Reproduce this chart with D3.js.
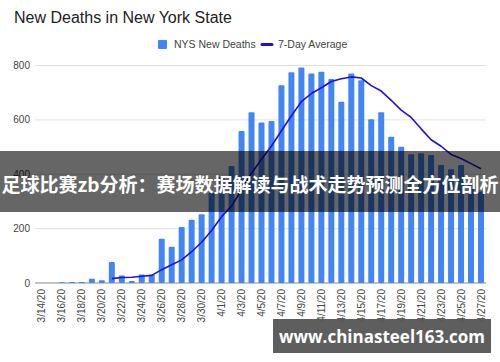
<!DOCTYPE html>
<html>
<head>
<meta charset="utf-8">
<script src="https://cdn.jsdelivr.net/npm/d3@7"></script>
<style>
  html, body { margin: 0; padding: 0; background: #fff; }
  svg { display: block; font-family: Arial, "Liberation Sans", sans-serif; }
</style>
</head>
<body>
<svg id="chart" width="500" height="362"></svg>
<script>
// dates shown on the x axis (every day, labels on every second one)
const dates = ["3/14/20","3/15/20","3/16/20","3/17/20","3/18/20","3/19/20","3/20/20","3/21/20","3/22/20","3/23/20",
  "3/24/20","3/25/20","3/26/20","3/27/20","3/28/20","3/29/20","3/30/20","3/31/20","4/1/20","4/2/20",
  "4/3/20","4/4/20","4/5/20","4/6/20","4/7/20","4/8/20","4/9/20","4/10/20","4/11/20","4/12/20",
  "4/13/20","4/14/20","4/15/20","4/16/20","4/17/20","4/18/20","4/19/20","4/20/20","4/21/20","4/22/20",
  "4/23/20","4/24/20","4/25/20","4/26/20","4/27/20"];

// NYS new deaths (bars)
const newDeaths = [0, 0, 3, 4, 4, 16, 10, 77, 28, 7,
  31, 30, 163, 133, 206, 233, 253, 332, 391, 430,
  559, 628, 590, 596, 727, 775, 793, 771, 777, 750,
  667, 771, 746, 602, 628, 538, 501, 474, 477, 471,
  434, 418, 434, 367, 337];

// 7-day average (line), starts on 3/21
const avgDates = dates.slice(7);
const avgValues = [16, 20, 21, 25, 28, 49, 67, 85, 115, 150,
  193, 244, 283, 343, 404, 455, 504, 560, 615, 667,
  697, 718, 741, 751, 758, 754, 726, 706, 672, 636,
  609, 567, 527, 503, 473, 458, 439, 420];

const yTicks = [0, 200, 400, 600, 800];

const svg = d3.select("#chart");

const x = d3.scaleBand().domain(dates).range([37, 486]).paddingInner(0.4).paddingOuter(0.2);
const y = d3.scaleLinear().domain([0, 800]).range([283, 65.5]);

// title
svg.append("text")
  .attr("x", 14).attr("y", 23)
  .attr("font-size", 16).attr("fill", "#222")
  .text("New Deaths in New York State");

// legend
const lg = svg.append("g").attr("font-size", 10.5).attr("fill", "#444");
lg.append("rect").attr("x", 158).attr("y", 40).attr("width", 9).attr("height", 9)
  .attr("rx", 1).attr("fill", "#4285f4");
lg.append("text").attr("x", 174).attr("y", 48).text("NYS New Deaths");
lg.append("line").attr("x1", 262).attr("x2", 272).attr("y1", 44.5).attr("y2", 44.5)
  .attr("stroke", "#1d10e0").attr("stroke-width", 3).attr("stroke-linecap", "round");
lg.append("text").attr("x", 278).attr("y", 48).text("7-Day Average");

// gridlines + y labels
const grid = svg.append("g");
grid.selectAll("line")
  .data(yTicks)
  .enter()
  .append("line")
  .attr("x1", 35).attr("x2", 486)
  .attr("y1", d => y(d)).attr("y2", d => y(d))
  .attr("stroke", d => d === 0 ? "#888" : "#e2e2e2")
  .attr("stroke-width", 1);
grid.selectAll("text")
  .data(yTicks)
  .enter()
  .append("text")
  .attr("x", 30).attr("y", d => y(d))
  .attr("dy", "0.35em")
  .attr("text-anchor", "end")
  .attr("font-size", 10).attr("fill", "#444")
  .text(d => d);

// bars
svg.append("g")
  .selectAll("rect.bar")
  .data(newDeaths)
  .enter()
  .append("rect")
  .classed("bar", true)
  .attr("x", (d, i) => x(dates[i]))
  .attr("y", d => y(d))
  .attr("width", x.bandwidth())
  .attr("height", d => y(0) - y(d))
  .attr("rx", 1)
  .attr("fill", "#4285f4");

// 7-day average line
const lineGen = d3.line()
  .x((d, i) => x(avgDates[i]) + x.bandwidth() / 2)
  .y(d => y(d));
svg.append("path")
  .datum(avgValues)
  .attr("d", lineGen)
  .attr("fill", "none")
  .attr("stroke", "#1d10e0")
  .attr("stroke-width", 1.6)
  .attr("stroke-linejoin", "round");

// x labels (every second date), rotated
svg.append("g")
  .selectAll("text")
  .data(dates.filter((d, i) => i % 2 === 0))
  .enter()
  .append("text")
  .attr("transform", d => `translate(${x(d) + x.bandwidth() / 2 + 3.5},289) rotate(-90)`)
  .attr("text-anchor", "end")
  .attr("font-size", 10).attr("fill", "#444")
  .text(d => d);

// overlay banner
svg.append("rect")
  .attr("x", 0).attr("y", 151).attr("width", 500).attr("height", 61)
  .attr("fill", "#000").attr("opacity", 0.6);
svg.append("text")
  .attr("x", 250).attr("y", 183)
  .attr("text-anchor", "middle").attr("dominant-baseline", "central")
  .attr("font-family", "'Noto Sans CJK SC', sans-serif")
  .attr("font-weight", "bold").attr("font-size", 19).attr("fill", "#fff")
  .text("足球比赛zb分析：赛场数据解读与战术走势预测全方位剖析");

// watermark
svg.append("rect")
  .attr("x", 273).attr("y", 319).attr("width", 218).attr("height", 34)
  .attr("fill", "#555").attr("opacity", 0.95);
svg.append("text")
  .attr("x", 382).attr("y", 336)
  .attr("text-anchor", "middle").attr("dominant-baseline", "central")
  .attr("font-family", "'Open Sans', 'DejaVu Sans', sans-serif")
  .attr("font-weight", "bold").attr("font-size", 17).attr("fill", "#fff")
  .text("www.chinasteel163.com");
</script>
</body>
</html>
